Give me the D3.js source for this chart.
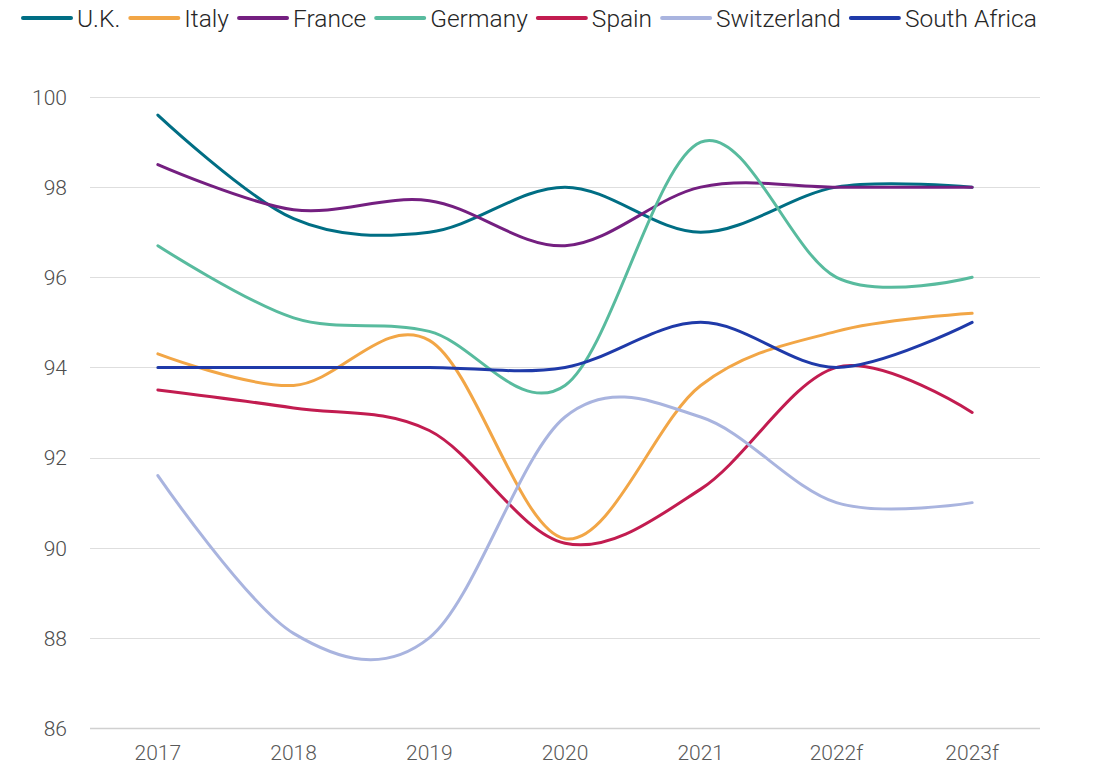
<!DOCTYPE html>
<html>
<head>
<meta charset="utf-8">
<script src="https://cdn.jsdelivr.net/npm/d3@7"></script>
<style>
  body { margin: 0; background: #fff; }
  text { font-family: Roboto, "Liberation Sans", sans-serif; font-weight: 300; }
</style>
</head>
<body>
<div id="visualization"></div>
<script>
// categories + values
const years = ['2017', '2018', '2019', '2020', '2021', '2022f', '2023f'];
const yTicks = [86, 88, 90, 92, 94, 96, 98, 100];

const uk = [99.6, 97.3, 97.0, 98.0, 97.0, 98.0, 98.0];
const italy = [94.3, 93.6, 94.6, 90.2, 93.6, 94.8, 95.2];
const france = [98.5, 97.5, 97.7, 96.7, 98.0, 98.0, 98.0];
const germany = [96.7, 95.1, 94.8, 93.6, 99.0, 96.0, 96.0];
const spain = [93.5, 93.1, 92.6, 90.1, 91.3, 94.0, 93.0];
const switzerland = [91.6, 88.1, 88.0, 92.9, 92.9, 91.0, 91.0];
const southAfrica = [94.0, 94.0, 94.0, 94.0, 95.0, 94.0, 95.0];

const seriesNames = ['U.K.', 'Italy', 'France', 'Germany', 'Spain', 'Switzerland', 'South Africa'];
const seriesValues = [uk, italy, france, germany, spain, switzerland, southAfrica];
const colors = ['#006e84', '#f2a646', '#741f80', '#58bb9e', '#c21c50', '#a9b4df', '#1f3aa9'];

const width = 1094, height = 770;
const margin = { top: 97, right: 54, bottom: 42, left: 90 };

const svg = d3.select('#visualization')
  .append('svg')
  .attr('width', width)
  .attr('height', height)
  .attr('id', 'canvas');

const x = d3.scaleBand()
  .domain(years)
  .range([margin.left, width - margin.right]);

const y = d3.scaleLinear()
  .domain([86, 100])
  .range([height - margin.bottom, margin.top]);

// gridlines
svg.append('g')
  .selectAll('line')
  .data(yTicks)
  .join('line')
  .attr('x1', margin.left)
  .attr('x2', width - margin.right)
  .attr('y1', d => Math.round(y(d)) + 0.5)
  .attr('y2', d => Math.round(y(d)) + 0.5)
  .attr('stroke', d => d === 86 ? '#d0d0d0' : '#dedede')
  .attr('stroke-width', d => d === 86 ? 1.5 : 1);

// y axis labels
const yAxis = d3.axisLeft(y).tickValues(yTicks).tickSize(0).tickPadding(0);
svg.append('g')
  .attr('transform', `translate(${margin.left - 23},0)`)
  .call(yAxis)
  .call(g => g.select('.domain').remove())
  .call(g => g.selectAll('text')
    .attr('fill', '#4d4d4d')
    .style('font-size', '21px')
    .style('font-family', 'Roboto, sans-serif')
    .style('font-weight', 300)
    .attr('dy', '0.35em'));

// x axis labels
const xAxis = d3.axisBottom(x).tickSize(0).tickPadding(0);
svg.append('g')
  .attr('transform', `translate(0,${height - margin.bottom + 17})`)
  .call(xAxis)
  .call(g => g.select('.domain').remove())
  .call(g => g.selectAll('text')
    .attr('fill', '#595959')
    .style('font-size', '21px')
    .style('font-family', 'Roboto, sans-serif')
    .style('font-weight', 300)
    .attr('dy', '0.71em'));

// smoothed lines like the excel original
const line = d3.line()
  .x((d, i) => x(years[i]) + x.bandwidth() / 2)
  .y(d => y(d))
  .curve(d3.curveCatmullRom.alpha(0));

svg.append('g')
  .selectAll('path')
  .data(seriesValues)
  .join('path')
  .attr('d', d => line(d))
  .attr('fill', 'none')
  .attr('stroke', (d, i) => colors[i])
  .attr('stroke-width', 3)
  .attr('stroke-linecap', 'round');

// legend across the top
const legend = svg.append('g').attr('class', 'legend');
let lx = 22;
seriesNames.forEach((name, i) => {
  legend.append('line')
    .attr('x1', lx + 1)
    .attr('x2', lx + 49)
    .attr('y1', 18)
    .attr('y2', 18)
    .attr('stroke', colors[i])
    .attr('stroke-width', 4)
    .attr('stroke-linecap', 'round');
  const t = legend.append('text')
    .attr('x', lx + 55)
    .attr('y', 18)
    .attr('dy', '0.35em')
    .attr('fill', '#262626')
    .style('font-size', '24.5px')
    .text(name);
  lx += 55 + t.node().getComputedTextLength() + 9;
});
</script>
</body>
</html>
